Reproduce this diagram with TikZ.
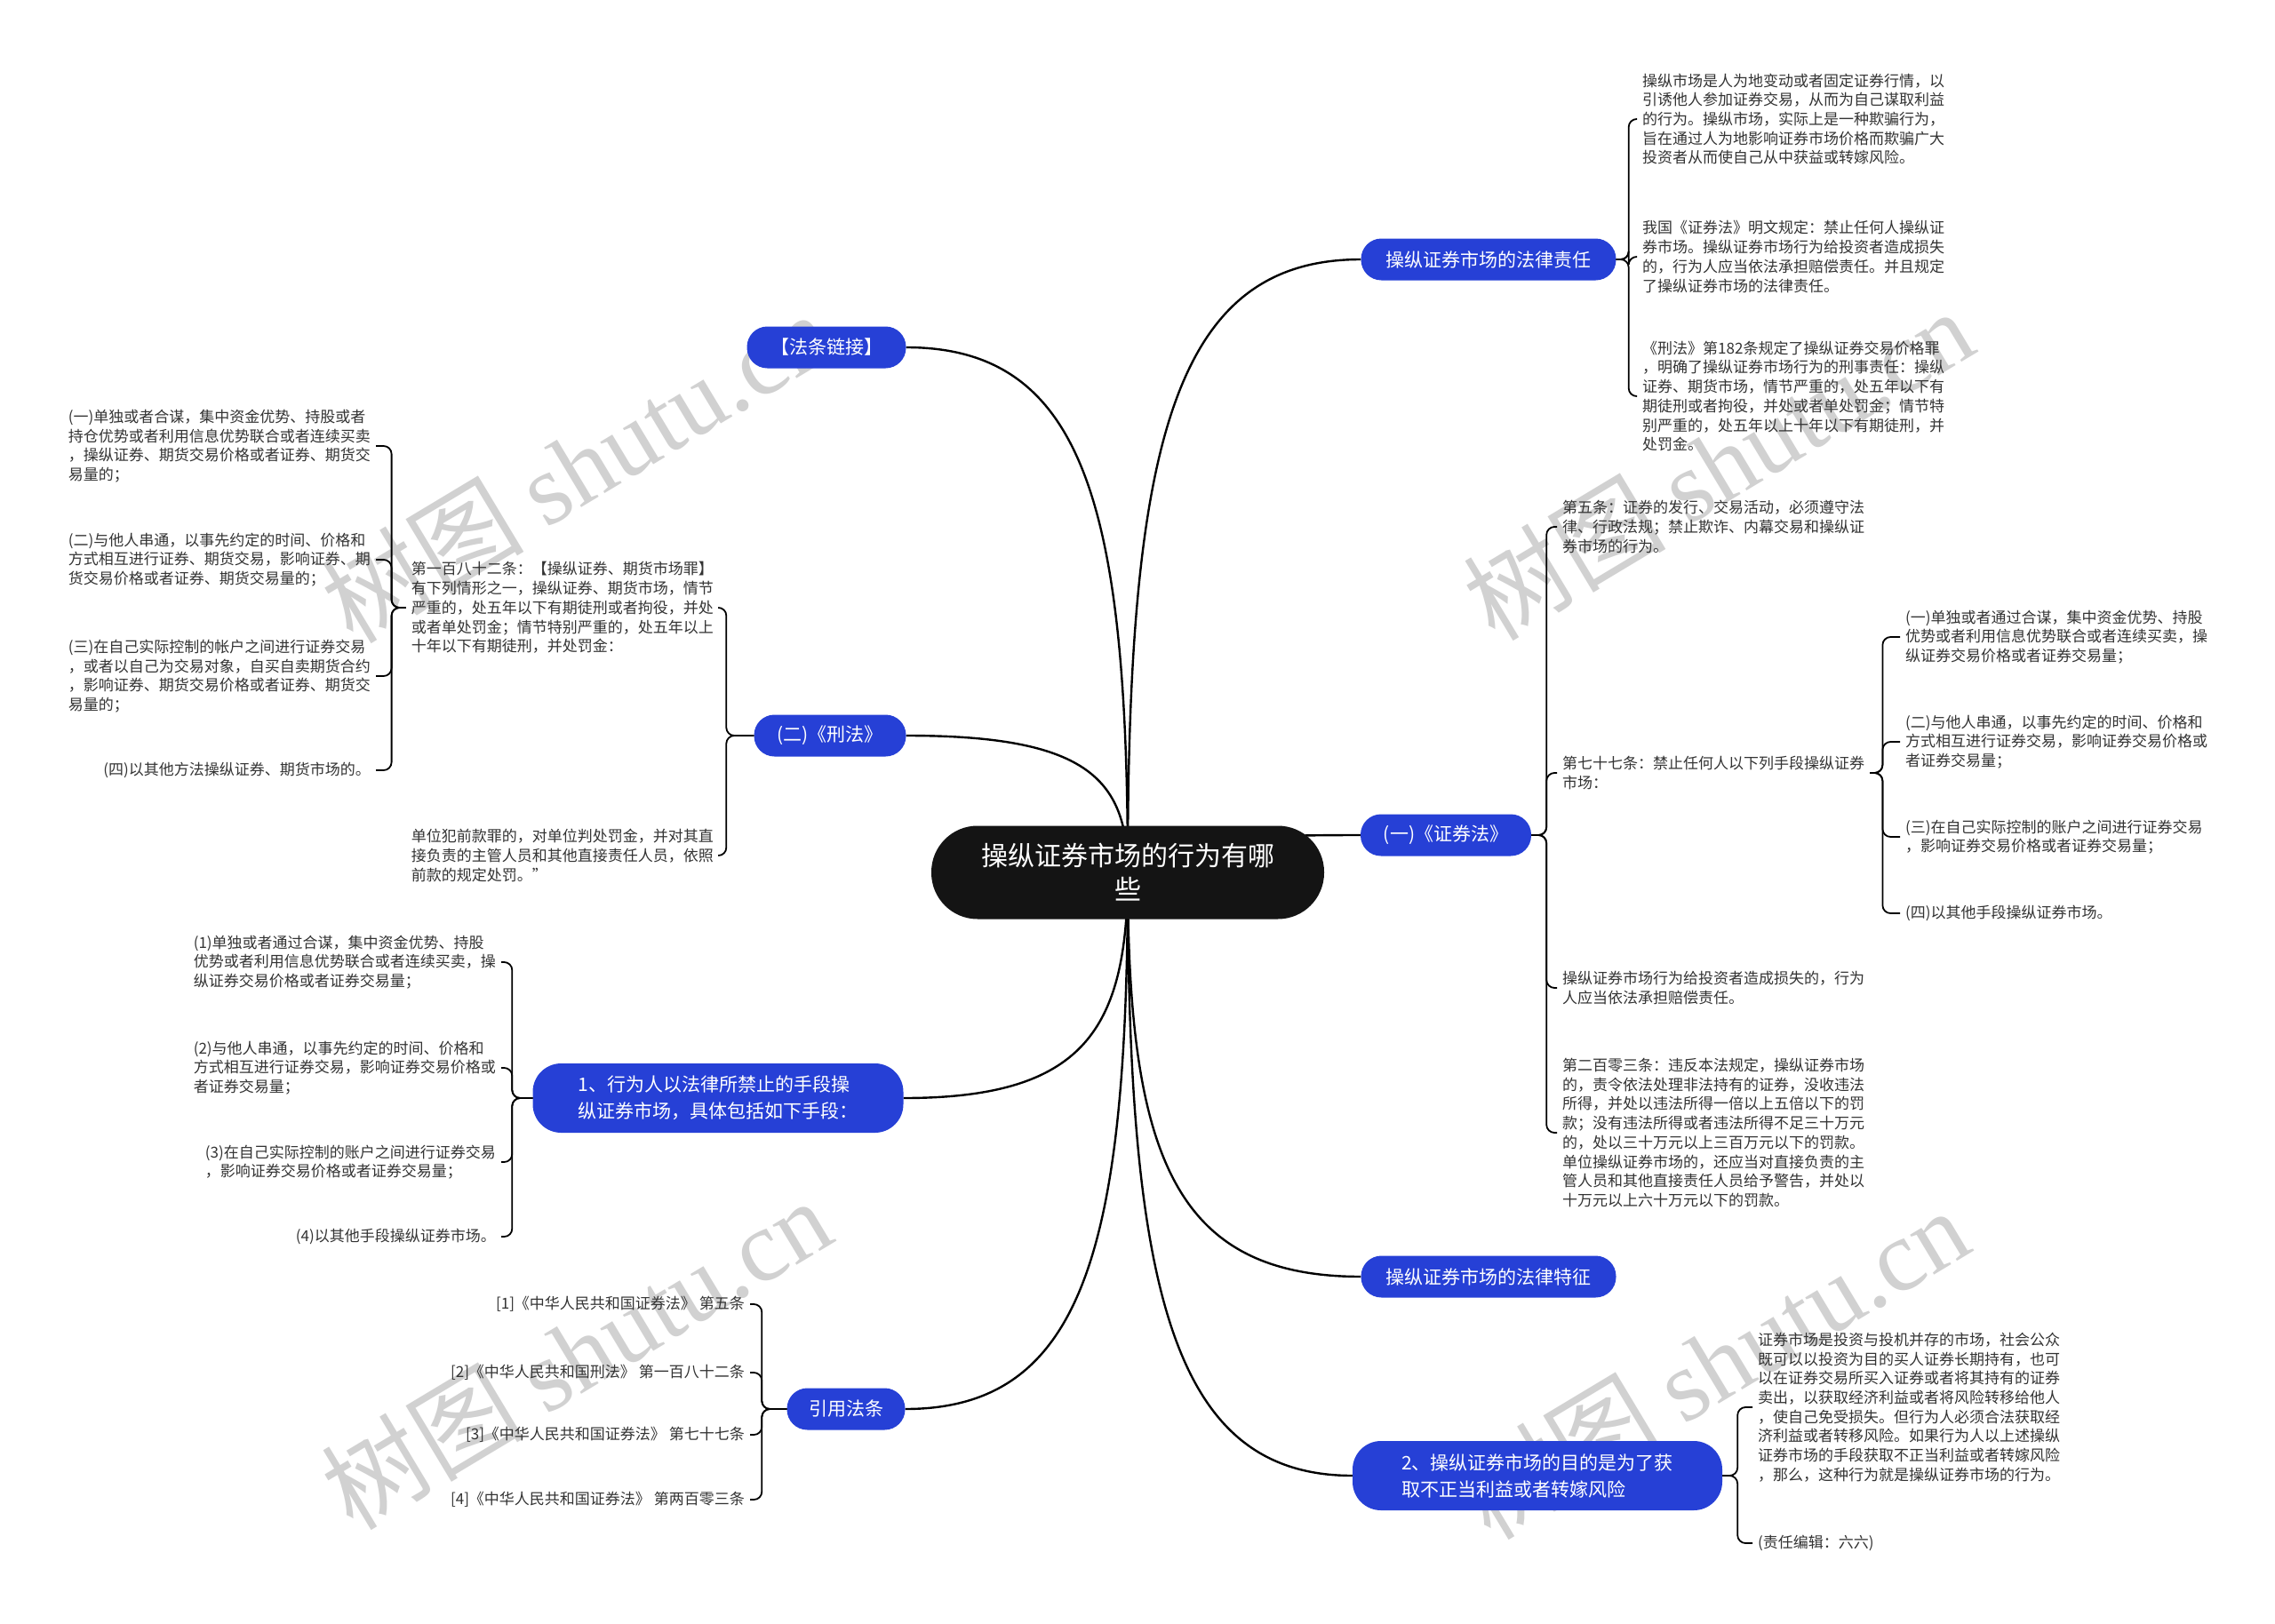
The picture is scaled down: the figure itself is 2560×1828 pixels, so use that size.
\documentclass[tikz,border=0pt]{standalone}
\usepackage{fontspec}
\setmainfont{Noto Sans CJK SC}
\newfontfamily\wmfont{Liberation Serif}
\usetikzlibrary{backgrounds}
\definecolor{nodeblue}{RGB}{38,64,214}
\definecolor{rootblack}{RGB}{20,20,20}
\definecolor{leafgray}{RGB}{51,51,51}
\begin{document}
\begin{tikzpicture}[x=1pt,y=-1pt,
  leaf/.style={font=\fontsize{17}{21.7}\selectfont, text=leafgray, align=left, inner xsep=6pt, inner ysep=0pt},
  lleaf/.style={leaf, anchor=east},
  rleaf/.style={leaf, anchor=west},
  bnode/.style={fill=nodeblue, text=white, font=\fontsize{21}{30}\selectfont, rounded corners=23pt, minimum height=47pt, inner sep=0pt, align=left},
  bnodetwo/.style={bnode, minimum height=78pt, rounded corners=32pt},
  mainline/.style={line width=2.4pt, draw=black},
  brk/.style={line width=1.8pt, draw=black, rounded corners=9pt},
  wm/.style={text=black!18, rotate=31, inner sep=0pt, font=\fontsize{114}{114}\selectfont}
]
\useasboundingbox (0,0) rectangle (2560,1828);
\begin{scope}[on background layer]
\fill[white] (0,0) rectangle (2560,1828);
\node[wm] (w1) at (648,525) {树图 {\wmfont shutu.cn}};
\node[wm] (w2) at (1933,522) {树图 {\wmfont shutu.cn}};
\node[wm] (w3) at (648,1523) {树图 {\wmfont shutu.cn}};
\node[wm] (w4) at (1928,1534) {树图 {\wmfont shutu.cn}};
\end{scope}

% root
\node[fill=rootblack, text=white, rounded corners=52pt, minimum width=442pt, minimum height=105pt, inner sep=0pt, font=\fontsize{30}{38}\selectfont, align=center] (R) at (1269,982) {操纵证券市场的行为有哪\\些};

% branch nodes
\node[bnode, minimum width=287pt] (falv) at (1675,292) {操纵证券市场的法律责任};
\node[bnode, minimum width=179pt] (fatiao) at (930,391) {【法条链接】};
\node[bnode, minimum width=171pt] (xingfa) at (934,828) {(二)《刑法》};
\node[bnode, minimum width=192pt] (zqf) at (1627,940) {(一)《证券法》};
\node[bnodetwo, minimum width=417pt] (n1) at (808,1236) {1、行为人以法律所禁止的手段操\\纵证券市场，具体包括如下手段：};
\node[bnode, minimum width=287pt] (tezheng) at (1675,1437) {操纵证券市场的法律特征};
\node[bnode, minimum width=133pt] (yinyong) at (952,1586) {引用法条};
\node[bnodetwo, minimum width=416pt] (n2) at (1730,1661) {2、操纵证券市场的目的是为了获\\取不正当利益或者转嫁风险};

% right top leaves
\node[rleaf] (A1) at (1842,134) {操纵市场是人为地变动或者固定证券行情，以\\引诱他人参加证券交易，从而为自己谋取利益\\的行为。操纵市场，实际上是一种欺骗行为，\\旨在通过人为地影响证券市场价格而欺骗广大\\投资者从而使自己从中获益或转嫁风险。};
\node[rleaf] (A2) at (1842,289) {我国《证券法》明文规定：禁止任何人操纵证\\券市场。操纵证券市场行为给投资者造成损失\\的，行为人应当依法承担赔偿责任。并且规定\\了操纵证券市场的法律责任。};
\node[rleaf] (A3) at (1842,446) {《刑法》第182条规定了操纵证券交易价格罪\\，明确了操纵证券市场行为的刑事责任：操纵\\证券、期货市场，情节严重的，处五年以下有\\期徒刑或者拘役，并处或者单处罚金；情节特\\别严重的，处五年以上十年以下有期徒刑，并\\处罚金。};

% securities law leaves
\node[rleaf] (B1) at (1752,593) {第五条：证券的发行、交易活动，必须遵守法\\律、行政法规；禁止欺诈、内幕交易和操纵证\\券市场的行为。};
\node[rleaf] (B2) at (1752,870) {第七十七条：禁止任何人以下列手段操纵证券\\市场：};
\node[rleaf] (B3) at (1752,1112) {操纵证券市场行为给投资者造成损失的，行为\\人应当依法承担赔偿责任。};
\node[rleaf] (B4) at (1752,1275) {第二百零三条：违反本法规定，操纵证券市场\\的，责令依法处理非法持有的证券，没收违法\\所得，并处以违法所得一倍以上五倍以下的罚\\款；没有违法所得或者违法所得不足三十万元\\的，处以三十万元以上三百万元以下的罚款。\\单位操纵证券市场的，还应当对直接负责的主\\管人员和其他直接责任人员给予警告，并处以\\十万元以上六十万元以下的罚款。};

\node[rleaf] (C1) at (2138,717) {(一)单独或者通过合谋，集中资金优势、持股\\优势或者利用信息优势联合或者连续买卖，操\\纵证券交易价格或者证券交易量；};
\node[rleaf] (C2) at (2138,835) {(二)与他人串通，以事先约定的时间、价格和\\方式相互进行证券交易，影响证券交易价格或\\者证券交易量；};
\node[rleaf] (C3) at (2138,942) {(三)在自己实际控制的账户之间进行证券交易\\，影响证券交易价格或者证券交易量；};
\node[rleaf] (C4) at (2138,1028) {(四)以其他手段操纵证券市场。};

\node[rleaf] (D1) at (1972,1584) {证券市场是投资与投机并存的市场，社会公众\\既可以以投资为目的买人证券长期持有，也可\\以在证券交易所买入证券或者将其持有的证券\\卖出，以获取经济利益或者将风险转移给他人\\，使自己免受损失。但行为人必须合法获取经\\济利益或者转移风险。如果行为人以上述操纵\\证券市场的手段获取不正当利益或者转嫁风险\\，那么，这种行为就是操纵证券市场的行为。};
\node[rleaf] (D2) at (1972,1737) {(责任编辑：六六)};

% criminal law leaves
\node[lleaf] (E1) at (809,684) {第一百八十二条：【操纵证券、期货市场罪】\\有下列情形之一，操纵证券、期货市场，情节\\严重的，处五年以下有期徒刑或者拘役，并处\\或者单处罚金；情节特别严重的，处五年以上\\十年以下有期徒刑，并处罚金：};
\node[lleaf] (E2) at (809,963) {单位犯前款罪的，对单位判处罚金，并对其直\\接负责的主管人员和其他直接责任人员，依照\\前款的规定处罚。”};

\node[lleaf] (F1) at (423,502) {(一)单独或者合谋，集中资金优势、持股或者\\持仓优势或者利用信息优势联合或者连续买卖\\，操纵证券、期货交易价格或者证券、期货交\\易量的；};
\node[lleaf] (F2) at (423,630) {(二)与他人串通，以事先约定的时间、价格和\\方式相互进行证券、期货交易，影响证券、期\\货交易价格或者证券、期货交易量的；};
\node[lleaf] (F3) at (423,761) {(三)在自己实际控制的帐户之间进行证券交易\\，或者以自己为交易对象，自买自卖期货合约\\，影响证券、期货交易价格或者证券、期货交\\易量的；};
\node[lleaf] (F4) at (423,867) {(四)以其他方法操纵证券、期货市场的。};

\node[lleaf] (G1) at (564,1083) {(1)单独或者通过合谋，集中资金优势、持股\\优势或者利用信息优势联合或者连续买卖，操\\纵证券交易价格或者证券交易量；};
\node[lleaf] (G2) at (564,1202) {(2)与他人串通，以事先约定的时间、价格和\\方式相互进行证券交易，影响证券交易价格或\\者证券交易量；};
\node[lleaf] (G3) at (564,1308) {(3)在自己实际控制的账户之间进行证券交易\\，影响证券交易价格或者证券交易量；};
\node[lleaf] (G4) at (564,1392) {(4)以其他手段操纵证券市场。};

\node[lleaf] (H1) at (844,1468) {[1]《中华人民共和国证券法》 第五条};
\node[lleaf] (H2) at (844,1545) {[2]《中华人民共和国刑法》 第一百八十二条};
\node[lleaf] (H3) at (844,1615) {[3]《中华人民共和国证券法》 第七十七条};
\node[lleaf] (H4) at (844,1688) {[4]《中华人民共和国证券法》 第两百零三条};

% main curves
\begin{scope}[on background layer]
\draw[mainline] (R.center) .. controls (1269,499) and (1321,292) .. (falv.west);
\draw[mainline] (R.center) .. controls (1269,953) and (1321,940) .. (zqf.west);
\draw[mainline] (R.center) .. controls (1269,1300) and (1321,1437) .. (tezheng.west);
\draw[mainline] (R.center) .. controls (1269,1457) and (1321,1661) .. (n2.west);
\draw[mainline] (R.center) .. controls (1269,568) and (1219,391) .. (fatiao.east);
\draw[mainline] (R.center) .. controls (1269,874) and (1219,828) .. (xingfa.east);
\draw[mainline] (R.center) .. controls (1269,1160) and (1219,1236) .. (n1.east);
\draw[mainline] (R.center) .. controls (1269,1405) and (1219,1586) .. (yinyong.east);
\end{scope}

% brackets
\foreach \c in {A1,A2,A3} \draw[brk] (falv.east) -- ++(14,0) |- (\c.west);
\foreach \c in {B1,B2,B3,B4} \draw[brk] (zqf.east) -- ++(17,0) |- (\c.west);
\foreach \c in {C1,C2,C3,C4} \draw[brk] (B2.east) -- ++(14,0) |- (\c.west);
\foreach \c in {D1,D2} \draw[brk] (n2.east) -- ++(17,0) |- (\c.west);
\foreach \c in {E1,E2} \draw[brk] (xingfa.west) -- ++(-31,0) |- (\c.east);
\foreach \c in {F1,F2,F3,F4} \draw[brk] (E1.west) -- ++(-16,0) |- (\c.east);
\foreach \c in {G1,G2,G3,G4} \draw[brk] (n1.west) -- ++(-23,0) |- (\c.east);
\foreach \c in {H1,H2,H3,H4} \draw[brk] (yinyong.west) -- ++(-28,0) |- (\c.east);
\end{tikzpicture}
\end{document}
